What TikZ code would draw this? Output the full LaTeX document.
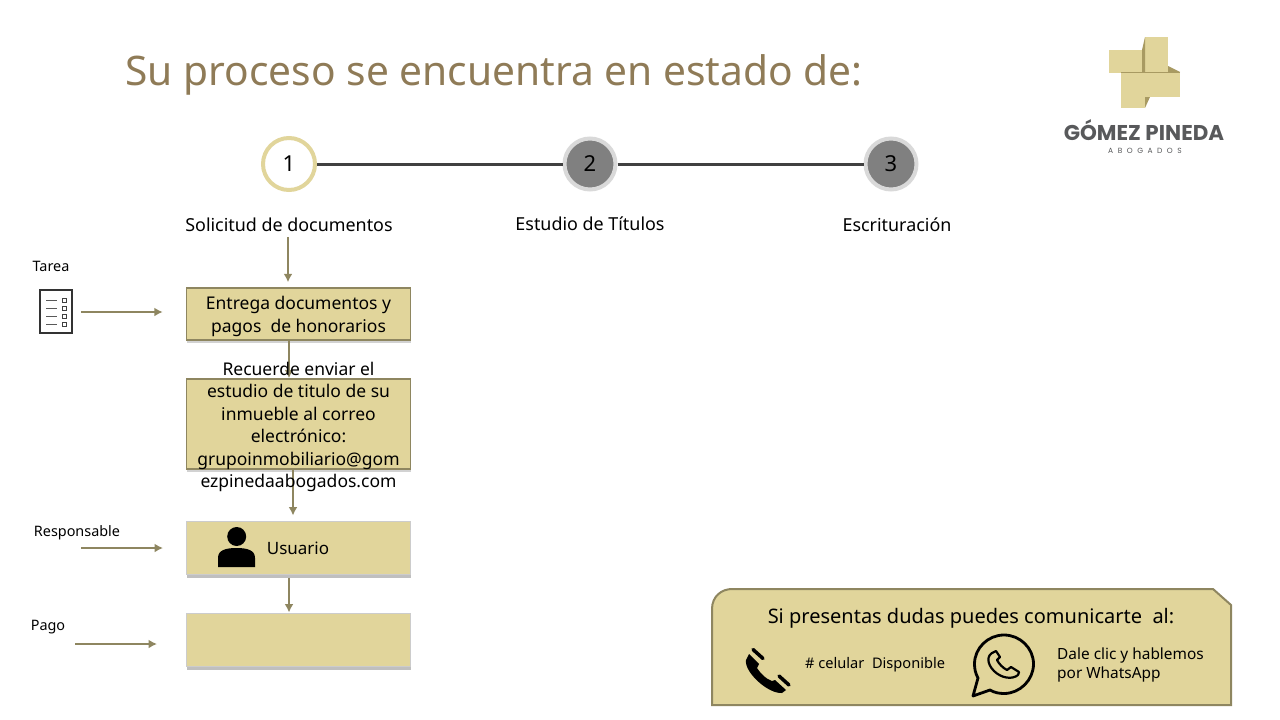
\documentclass[tikz,border=0pt]{standalone}
\usepackage{fontspec}
\setmainfont{Noto Sans}
\newfontfamily\logofont{Poppins}
\usepackage{tikz}
\usetikzlibrary{positioning,shapes,arrows.meta,backgrounds,calc,shadows}
\definecolor{sand}{HTML}{E1D59B}
\definecolor{olive}{HTML}{8E8660}
\definecolor{titlecol}{HTML}{8F7B57}
\definecolor{logodark}{HTML}{A89A62}
\definecolor{logotext}{HTML}{58595B}
\tikzstyle{box1} = [rectangle, draw=olive, line width=1.5pt, fill=sand, minimum width=224pt, %
   drop shadow={shadow xshift=0.5pt, shadow yshift=-3pt, fill=black!35}]
\tikzstyle{box2} = [rectangle, draw=black!20, line width=1pt, fill=sand, minimum width=224pt, minimum height=53pt, %
   drop shadow={shadow xshift=0.5pt, shadow yshift=-3.5pt, fill=black!50}]
\tikzstyle{stepnow} = [circle, draw=sand, line width=4pt, fill=white, minimum size=52pt, inner sep=0pt, font=\fontsize{22}{24}\selectfont]
\tikzstyle{stepoff} = [circle, draw=black!15, line width=4pt, fill=black!50, minimum size=51pt, inner sep=0pt, font=\fontsize{22}{24}\selectfont]
\tikzstyle{steptext} = [font=\fontsize{17.9}{20}\selectfont]
\tikzstyle{boxtext} = [align=center, font=\fontsize{17.5}{22.4}\selectfont]
\tikzstyle{sidetext} = [font=\fontsize{14.4}{16}\selectfont]
\tikzstyle{line} = [draw=olive, line width=2pt, -{Latex[length=8.5pt,width=9pt]}]
\begin{document}
\begin{tikzpicture}[x=1pt,y=-1pt]
   \useasboundingbox (0,0) rectangle (1280,720);

   % Title and logo
   \node (title) at (494,75) {\color{titlecol}\fontsize{40.7}{46}\selectfont Su proceso se encuentra en estado de:};
   \fill[sand] (1109,50) rectangle (1145,73);
   \fill[sand] (1145,37) rectangle (1168,73);
   \fill[sand] (1144,72) rectangle (1180,97);
   \fill[sand] (1121,72) rectangle (1145,108);
   \fill[logodark] (1142,50) -- (1145,37) -- (1145,73) -- (1142,72) -- cycle;
   \fill[logodark] (1168,66) -- (1180,72) -- (1168,72) -- cycle;
   \fill[logodark] (1145,97) -- (1150,97) -- (1145,108) -- cycle;
   \draw[logodark, line width=0.7pt] (1121,72.5) -- (1180,72.5);
   \node (logoname) at (1144,130) {\color{logotext}\logofont\bfseries\fontsize{21.4}{23}\selectfont GÓMEZ~PINEDA};
   \node (logosub) at (1145,151) {\color{logotext}\logofont\addfontfeature{LetterSpace=60}\fontsize{7.5}{8}\selectfont ABOGADOS};

   % Steps
   \node[stepnow] (step1) at (289,164) {\raisebox{-1.5pt}{1}};
   \node[stepoff] (step2) at (590,164) {\raisebox{-1.5pt}{2}};
   \node[stepoff] (step3) at (891,164) {\raisebox{-1.5pt}{3}};
   \path [draw=black!75, line width=3pt] (step1) -- (step2);
   \path [draw=black!75, line width=3pt] (step2) -- (step3);
   \node[steptext] (label1) at (289,225) {Solicitud de documentos};
   \node[steptext] (label2) at (590,224) {Estudio de Títulos};
   \node[steptext] (label3) at (897,225) {Escrituración};

   % Boxes of the first step
   \node[box1, minimum height=52pt] (entrega) at (298.5,314) {};
   \node[box1, minimum height=90pt] (recuerde) at (298.5,424) {};
   \node[box2] (usuario) at (298.5,547.5) {};
   \node[box2] (pago) at (298.5,639.5) {};

   % Draw edges
   \path [line, shorten <=2pt, shorten >=5pt] (label1.south -| 288,0) -- (entrega.north -| 288,0);
   \path [line] (entrega.south -| 289,0) -- (recuerde.north -| 289,0);
   \path [line, shorten >=5pt] (recuerde.south -| 293,0) -- (usuario.north -| 293,0);
   \path [line, shorten <=3pt] (usuario.south -| 289,0) -- (pago.north -| 289,0);

   % Texts of the boxes
   \node[boxtext, font=\fontsize{17.5}{23}\selectfont] (entregatext) at (298.5,316) {Entrega documentos y\\pagos~ de honorarios};
   \node[boxtext] (recuerdetext) at (298.5,427) {Recuerde enviar el\\estudio de titulo de su\\inmueble al correo\\electrónico:\\grupoinmobiliario@gom\\ezpinedaabogados.com};
   \node[boxtext, font=\fontsize{17}{20}\selectfont] (usuariotext) at (298,548) {Usuario};
   \fill[black] (236.7,536.5) circle (9.5);
   \fill[black] (218,567) -- (218,558) .. controls (218,550) and (226,548) .. (236.5,548) .. controls (247,548) and (255,550) .. (255,558) -- (255,567) -- cycle;

   % Left column
   \node[sidetext] (tarea) at (51,266) {Tarea};
   \node[sidetext] (responsable) at (77,533) {Responsable};
   \node[sidetext] (pagolabel) at (48,627) {Pago};
   \node[draw=black!80, fill=white, line width=1.1pt, minimum width=32pt, minimum height=43pt, inner sep=0pt] (lista) at (56,311.5) {};
   \foreach \yy in {300,308,316,324} {
      \draw[black!65, line width=0.9pt] (46,\yy) -- (57,\yy);
      \draw[black!75, line width=0.9pt] (62,{\yy-2}) rectangle (66,{\yy+2});
   }
   \coordinate (respstart) at (81,548);
   \coordinate (pagostart) at (75,644);
   \coordinate (listastart) at (81,312);
   \path [line, shorten >=23pt] (listastart) -- (entrega.west |- listastart);
   \path [line, shorten >=23pt] (respstart) -- (usuario.west |- respstart);
   \path [line, shorten >=29pt] (pagostart) -- (pago.west |- pagostart);

   % Contact panel
   \draw[olive, line width=2pt, fill=sand] (712,705) -- (712,609) .. controls (712,596) and (722,589) .. (732,589) -- (1213,589) -- (1231,605) -- (1231,705) -- cycle;
   \node (dudas) at (971,618) {\fontsize{20}{22}\selectfont Si presentas dudas puedes comunicarte~ al:};
   \node[anchor=west, inner sep=0pt] (celular) at (805,665) {\fontsize{14.6}{16}\selectfont \# celular~ Disponible};
   \node[anchor=west, inner sep=0pt, align=left, font=\fontsize{15.4}{19}\selectfont] (whatsapp) at (1057,665) {Dale clic y hablemos\\por WhatsApp};
   % phone
   \fill[black] (749,654) -- (759,664) -- (757,668) .. controls (761,674) and (766,679) .. (772,681) -- (775,680) -- (786,690) -- (782,693) .. controls (768,694) and (744,672) .. (746,660) -- cycle;
   \draw[black, line width=3.5pt, line cap=round] (753,649.5) -- (763,658.5);
   \draw[black, line width=3.5pt, line cap=round] (779,676) -- (789,685);
   % whatsapp
   \draw[black, line width=2.8pt, line join=round] (973,696) -- (978,678) .. controls (975.5,673.5) and (974.5,669) .. (974.5,664) .. controls (974.5,648) and (988,635) .. (1004,635) .. controls (1020,635) and (1033.5,648) .. (1033.5,664) .. controls (1033.5,680) and (1020,693.5) .. (1004,693.5) .. controls (999,693.5) and (994,692.5) .. (990,690) -- cycle;
   \draw[black, line width=2.2pt, line join=round] (994,652) .. controls (986,655) and (987,664) .. (994,671) .. controls (1001,678) and (1012,680) .. (1018,675) -- (1019,672) -- (1011,667) -- (1007,670) .. controls (1003,668) and (999,664) .. (997,660) -- (1000,657) -- (996,651) -- cycle;
\end{tikzpicture}
\end{document}
